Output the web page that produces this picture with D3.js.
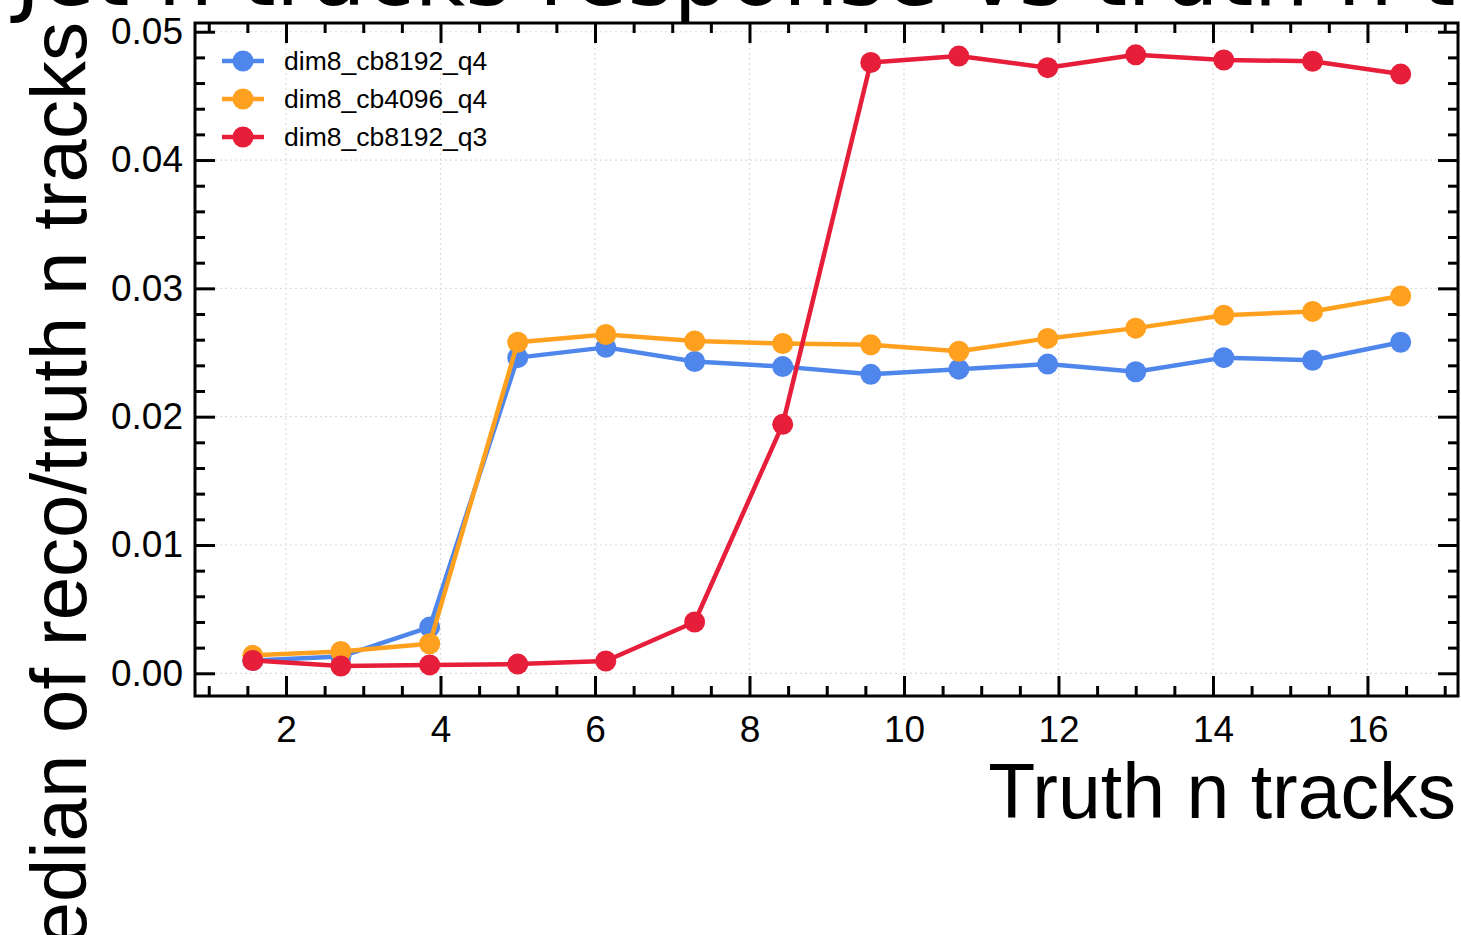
<!DOCTYPE html>
<html>
<head>
<meta charset="utf-8">
<script src="https://cdn.jsdelivr.net/npm/d3@7"></script>
<style>
  body { margin: 0; background: #fff; }
  svg { display: block; font-family: "Liberation Sans", Arial, sans-serif; }
</style>
</head>
<body>
<svg id="chart" width="1461" height="935"></svg>
<script>
// bin centres of truth n tracks
const truthN = [1.57, 2.71, 3.86, 5.0, 6.14, 7.29, 8.43, 9.57, 10.71, 11.86, 13.0, 14.14, 15.29, 16.43];

const seriesNames = ["dim8_cb8192_q4", "dim8_cb4096_q4", "dim8_cb8192_q3"];
const cb8192q4 = [0.0010, 0.0013, 0.0036, 0.0246, 0.0254, 0.0243, 0.0239, 0.0233, 0.0237, 0.0241, 0.0235, 0.0246, 0.0244, 0.0258];
const cb4096q4 = [0.0014, 0.0017, 0.0023, 0.0258, 0.0264, 0.0259, 0.0257, 0.0256, 0.0251, 0.0261, 0.0269, 0.0279, 0.0282, 0.0294];
const cb8192q3 = [0.0010, 0.00057, 0.00065, 0.00072, 0.00096, 0.0040, 0.0194, 0.0476, 0.0481, 0.0472, 0.0482, 0.0478, 0.0477, 0.0467];

const xTicks = [2, 4, 6, 8, 10, 12, 14, 16];
const yTicks = [0.0, 0.01, 0.02, 0.03, 0.04, 0.05];

const colors = ["#4f86ec", "#ffa01f", "#e61e3a"];

const plotLeft = 195, plotRight = 1458, plotTop = 23, plotBottom = 696;

const svg = d3.select("#chart");

const x = d3.scaleLinear().domain([0.822, 17.172]).range([plotLeft, plotRight]);
const y = d3.scaleLinear().domain([-0.00177, 0.05068]).range([plotBottom, plotTop]);

// grid
svg.append("g")
  .selectAll("line")
  .data(xTicks)
  .enter()
  .append("line")
  .attr("x1", d => x(d)).attr("x2", d => x(d))
  .attr("y1", plotTop).attr("y2", plotBottom)
  .attr("stroke", "#dcdcdc").attr("stroke-width", 1.2).attr("stroke-dasharray", "2,3");
svg.append("g")
  .selectAll("line")
  .data(yTicks)
  .enter()
  .append("line")
  .attr("x1", plotLeft).attr("x2", plotRight)
  .attr("y1", d => y(d)).attr("y2", d => y(d))
  .attr("stroke", "#dcdcdc").attr("stroke-width", 1.2).attr("stroke-dasharray", "2,3");

const xMinor = d3.range(1, 17.01, 0.5).filter(v => v % 2 !== 0);
const yMinor = d3.range(0, 0.0501, 0.002).filter(v => Math.abs(v * 100 - Math.round(v * 100)) > 1e-6);

function styleAxis(g, label) {
  g.select(".domain").remove();
  g.selectAll(".tick line").attr("stroke", "#000").attr("stroke-width", 3);
  g.selectAll(".tick text")
    .attr("fill", "#000")
    .style("font-size", label ? "37px" : "0px");
}

// bottom
svg.append("g").attr("transform", `translate(0,${plotBottom})`)
  .call(d3.axisBottom(x).tickValues(xTicks).tickSize(-20).tickPadding(20).tickFormat(d3.format("d")))
  .call(g => styleAxis(g, true));
svg.append("g").attr("transform", `translate(0,${plotBottom})`)
  .call(d3.axisBottom(x).tickValues(xMinor).tickSize(-10).tickFormat(""))
  .call(g => styleAxis(g, false));
// top
svg.append("g").attr("transform", `translate(0,${plotTop})`)
  .call(d3.axisTop(x).tickValues(xTicks).tickSize(-20).tickFormat(""))
  .call(g => styleAxis(g, false));
svg.append("g").attr("transform", `translate(0,${plotTop})`)
  .call(d3.axisTop(x).tickValues(xMinor).tickSize(-10).tickFormat(""))
  .call(g => styleAxis(g, false));
// left
svg.append("g").attr("transform", `translate(${plotLeft},0)`)
  .call(d3.axisLeft(y).tickValues(yTicks).tickSize(-20).tickPadding(12).tickFormat(d3.format(".2f")))
  .call(g => styleAxis(g, true));
svg.append("g").attr("transform", `translate(${plotLeft},0)`)
  .call(d3.axisLeft(y).tickValues(yMinor).tickSize(-10).tickFormat(""))
  .call(g => styleAxis(g, false));
// right
svg.append("g").attr("transform", `translate(${plotRight},0)`)
  .call(d3.axisRight(y).tickValues(yTicks).tickSize(-20).tickFormat(""))
  .call(g => styleAxis(g, false));
svg.append("g").attr("transform", `translate(${plotRight},0)`)
  .call(d3.axisRight(y).tickValues(yMinor).tickSize(-10).tickFormat(""))
  .call(g => styleAxis(g, false));

// frame
svg.append("rect")
  .attr("x", plotLeft).attr("y", plotTop)
  .attr("width", plotRight - plotLeft).attr("height", plotBottom - plotTop)
  .attr("fill", "none").attr("stroke", "#000").attr("stroke-width", 3);

// lines
const allSeries = [cb8192q4, cb4096q4, cb8192q3];
const line = d3.line().x((d, i) => x(truthN[i])).y(d => y(d));

allSeries.forEach((vals, k) => {
  svg.append("path")
    .datum(vals)
    .attr("fill", "none")
    .attr("stroke", colors[k])
    .attr("stroke-width", 4.5)
    .attr("stroke-linejoin", "round")
    .attr("d", line);
  svg.append("g")
    .selectAll("circle")
    .data(vals)
    .enter()
    .append("circle")
    .attr("cx", (d, i) => x(truthN[i]))
    .attr("cy", d => y(d))
    .attr("r", 10.5)
    .attr("fill", colors[k]);
});

// legend
const legend = svg.append("g").attr("transform", "translate(222, 61)");
seriesNames.forEach((name, i) => {
  const row = legend.append("g").attr("transform", `translate(0, ${i * 38})`);
  row.append("line")
    .attr("x1", 0).attr("x2", 42)
    .attr("stroke", colors[i]).attr("stroke-width", 4.5);
  row.append("circle")
    .attr("cx", 21).attr("r", 10.5)
    .attr("fill", colors[i]);
  row.append("text")
    .attr("x", 62).attr("dy", "0.35em")
    .style("font-size", "26.5px")
    .text(name);
});

// axis labels
svg.append("text")
  .attr("x", 1456).attr("y", 818)
  .attr("text-anchor", "end")
  .style("font-size", "77px")
  .text("Truth n tracks");

svg.append("text")
  .attr("transform", "translate(86, 22) rotate(-90)")
  .attr("text-anchor", "end")
  .style("font-size", "78px")
  .text("Median of reco/truth n tracks");

// title (mostly cut off at the top)
svg.append("text")
  .attr("x", 15).attr("y", 5)
  .style("font-family", "DejaVu Sans")
  .style("font-size", "88px")
  .text("Jet n tracks response vs truth n tracks");
</script>
</body>
</html>
